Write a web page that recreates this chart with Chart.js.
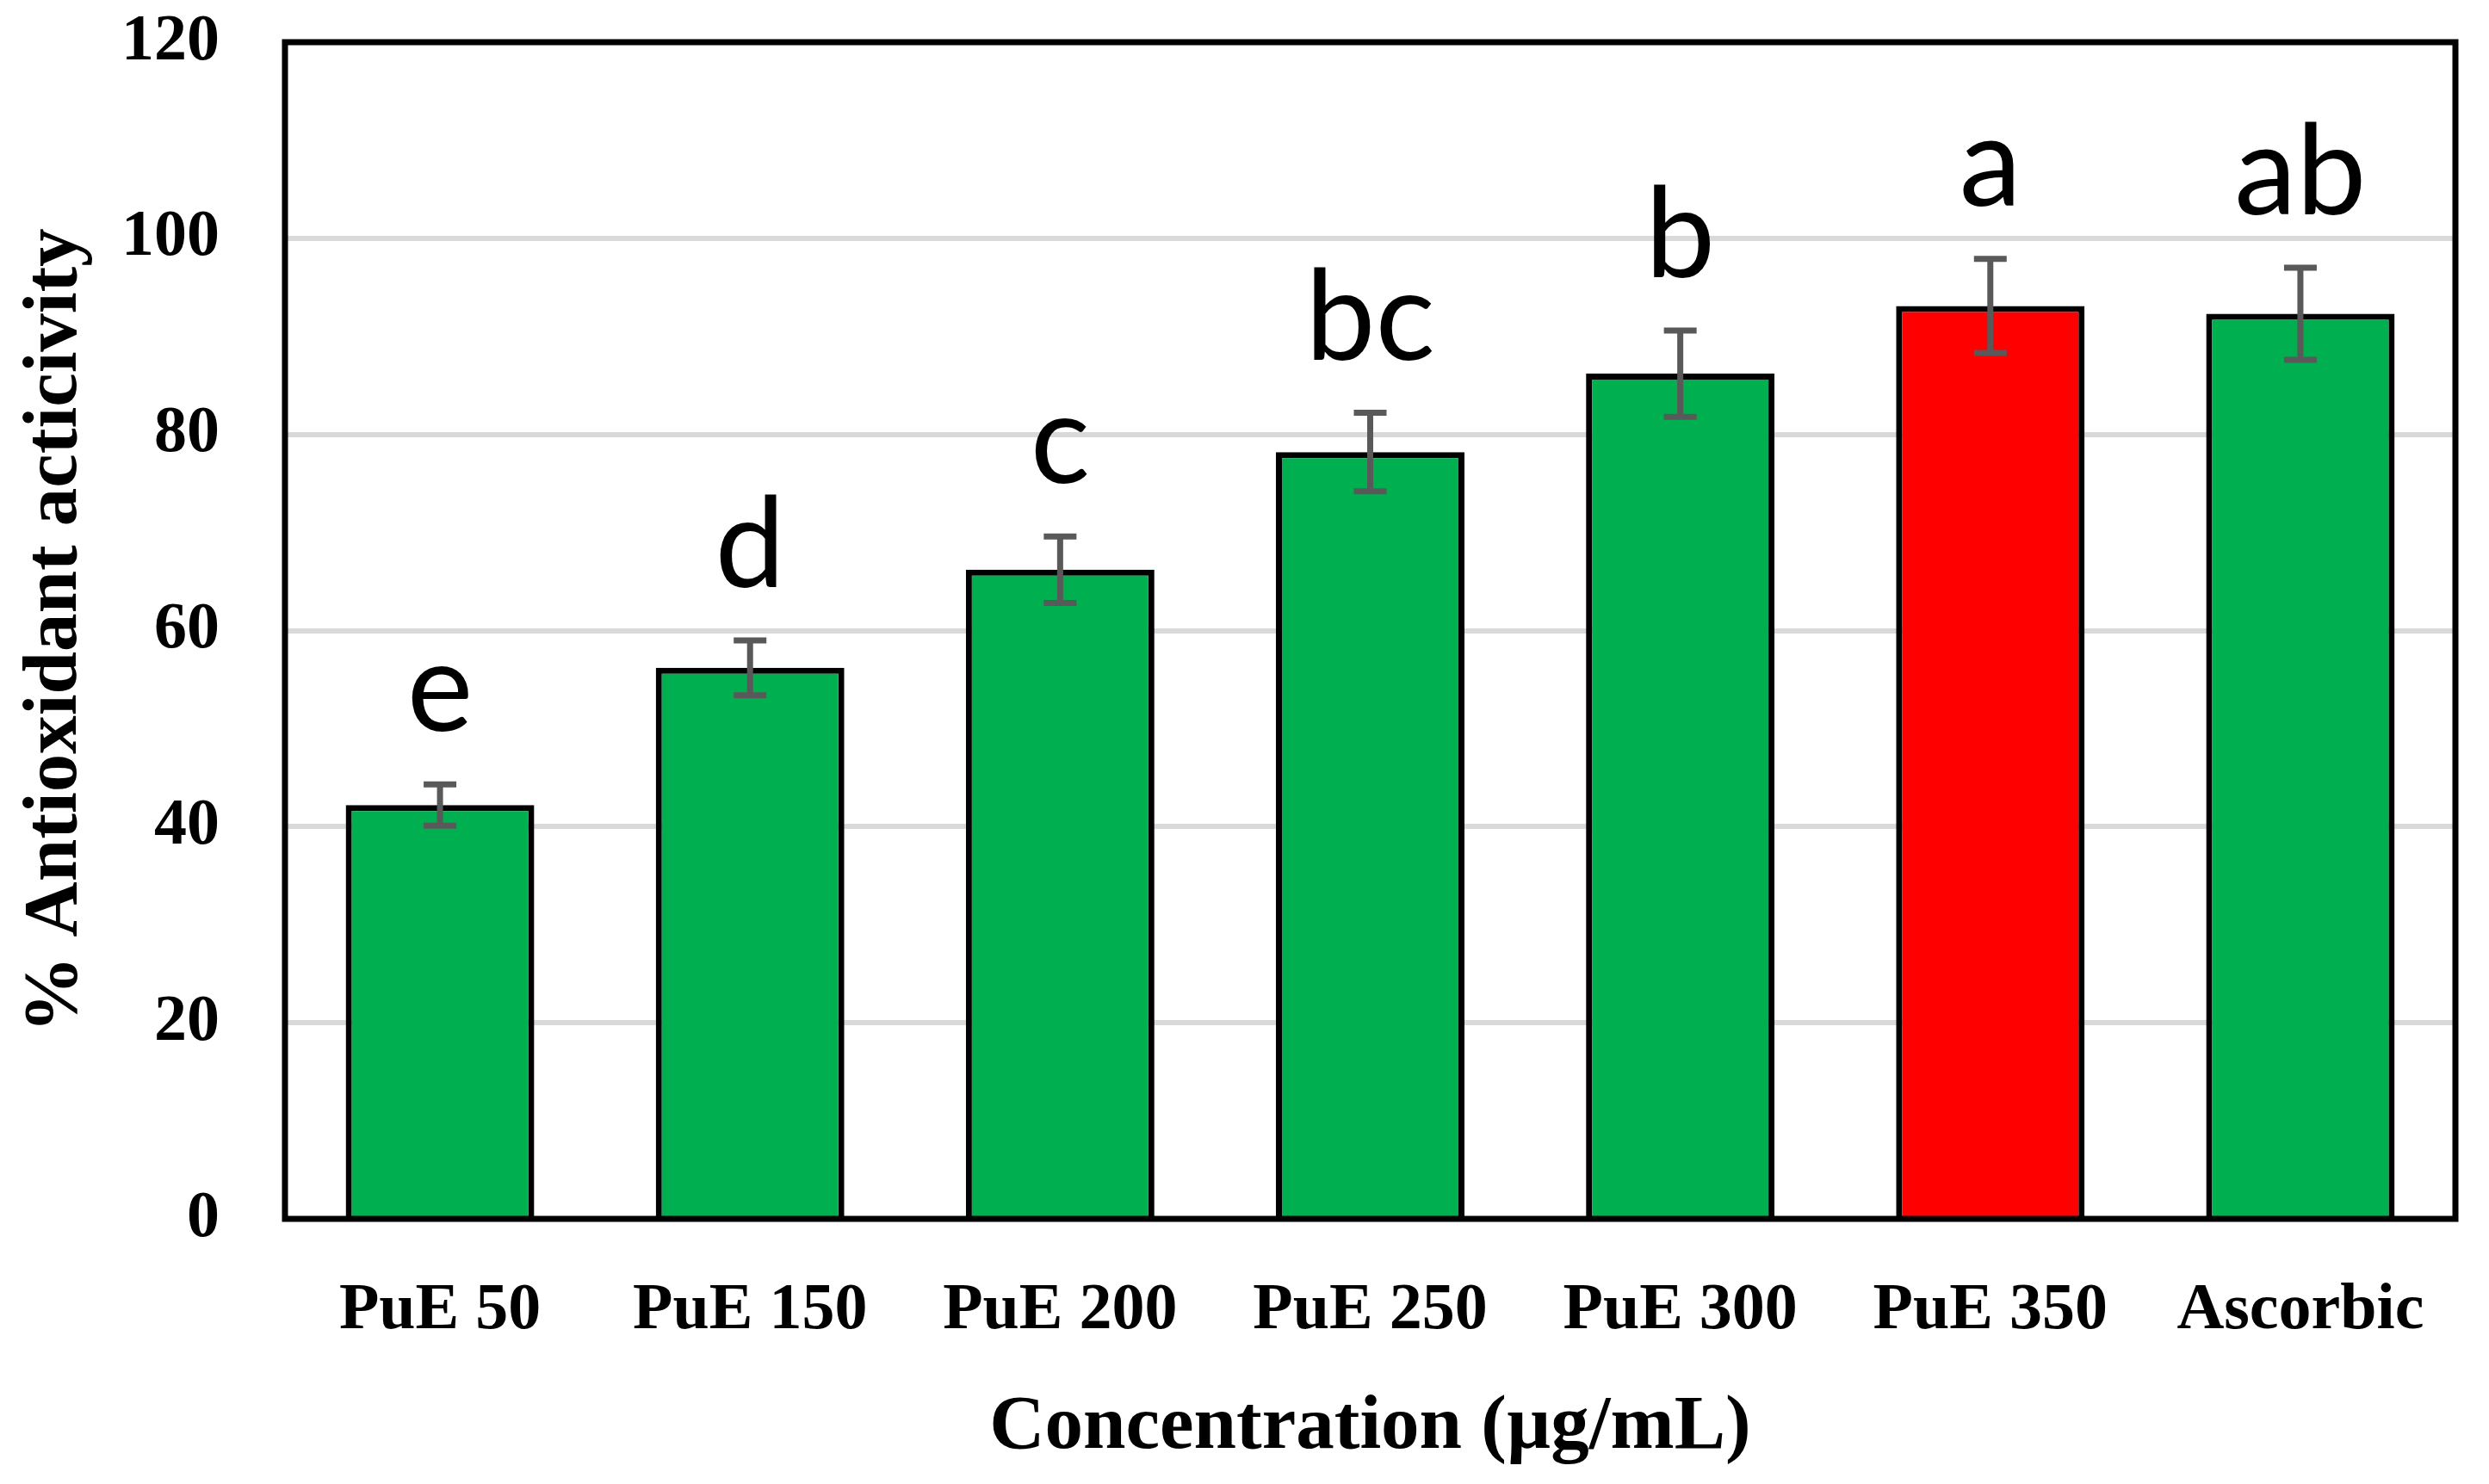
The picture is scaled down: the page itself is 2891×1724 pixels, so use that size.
<!DOCTYPE html>
<html>
<head>
<meta charset="utf-8">
<script src="https://cdn.jsdelivr.net/npm/chart.js@4.4.1/dist/chart.umd.min.js"></script>
<style>
  html, body { margin: 0; padding: 0; background: #ffffff; }
  #wrap { width: 2891px; height: 1724px; }
</style>
</head>
<body>
<div id="wrap"><canvas id="c" width="2891" height="1724"></canvas></div>
<script>
// ---- data ----
const categories = ['PuE 50', 'PuE 150', 'PuE 200', 'PuE 250', 'PuE 300', 'PuE 350', 'Ascorbic'];
const meanValues = [42.2, 56.2, 66.2, 78.2, 86.2, 93.1, 92.3];
const errorValues = [2.1, 2.8, 3.4, 4.0, 4.4, 4.8, 4.7];
const groupLetters = ['e', 'd', 'c', 'bc', 'b', 'a', 'ab'];
const yTickValues = [0, 20, 40, 60, 80, 100, 120];
const highlightedCategory = 'PuE 350';
const yAxisTitle = '% Antioxidant acticivity';
const xAxisTitle = 'Concentration (\u00B5g/mL)';

// ---- styles ----
const GREEN = '#00b050';
const RED = '#ff0000';
const barColors = categories.map(c => c === highlightedCategory ? RED : GREEN);
const serif = '"Liberation Serif", "Times New Roman", serif';

const errorBarPlugin = {
  id: 'errorBars',
  afterDatasetsDraw(chart) {
    const ctx = chart.ctx;
    const meta = chart.getDatasetMeta(0);
    const y = chart.scales.y;
    ctx.save();
    ctx.strokeStyle = '#595959';
    ctx.lineWidth = 7;
    ctx.lineCap = 'butt';
    meta.data.forEach((bar, i) => {
      const top = y.getPixelForValue(meanValues[i] + errorValues[i]);
      const bot = y.getPixelForValue(meanValues[i] - errorValues[i]);
      const half = 19;
      ctx.beginPath();
      ctx.moveTo(bar.x, top); ctx.lineTo(bar.x, bot);
      ctx.moveTo(bar.x - half, top); ctx.lineTo(bar.x + half, top);
      ctx.moveTo(bar.x - half, bot); ctx.lineTo(bar.x + half, bot);
      ctx.stroke();
    });
    // frame around plot area
    const a = chart.chartArea;
    ctx.strokeStyle = '#000000';
    ctx.lineWidth = 7;
    ctx.strokeRect(a.left, a.top, a.right - a.left, a.bottom - a.top);
    // significance letters
    ctx.fillStyle = '#000000';
    ctx.font = '145px Lato, "Open Sans", sans-serif';
    ctx.textAlign = 'center';
    ctx.textBaseline = 'alphabetic';
    meta.data.forEach((bar, i) => {
      const top = y.getPixelForValue(meanValues[i] + errorValues[i]);
      ctx.fillText(groupLetters[i], bar.x, top - 62);
    });
    ctx.restore();
  }
};

new Chart(document.getElementById('c'), {
  type: 'bar',
  data: {
    labels: categories,
    datasets: [{
      data: meanValues,
      backgroundColor: barColors,
      borderColor: '#000000',
      borderWidth: 7,
      barPercentage: 0.608,
      categoryPercentage: 1.0
    }]
  },
  options: {
    responsive: false,
    animation: false,
    devicePixelRatio: 1,
    layout: { padding: { top: 49, right: 39, left: 0, bottom: 0 } },
    plugins: {
      legend: { display: false },
      tooltip: { enabled: false }
    },
    scales: {
      x: {
        grid: { display: false, drawTicks: false },
        border: { display: false },
        ticks: {
          color: '#000000',
          padding: 62,
          maxRotation: 0,
          autoSkip: false,
          font: { family: serif, size: 76, weight: 'bold' }
        },
        title: {
          display: true,
          text: xAxisTitle,
          color: '#000000',
          padding: { top: 0, bottom: 12 },
          font: { family: serif, size: 89, weight: 'bold', lineHeight: 1.2 }
        },
        afterFit(scale) {
          scale.height = 308;
          scale.paddingLeft = 0; scale.paddingRight = 0;
        }
      },
      y: {
        min: 0,
        max: 120,
        afterBuildTicks(scale) { scale.ticks = yTickValues.map(v => ({ value: v })); },
        grid: { color: '#d9d9d9', lineWidth: 6, drawTicks: false },
        border: { display: false },
        ticks: {
          color: '#000000',
          padding: 76,
          font: { family: serif, size: 76, weight: 'bold' }
        },
        title: {
          display: true,
          text: yAxisTitle,
          color: '#000000',
          padding: { top: 12, bottom: 0 },
          font: { family: serif, size: 89, weight: 'bold', lineHeight: 1.2 }
        },
        afterFit(scale) {
          scale.width = 331;
          scale.paddingTop = 0; scale.paddingBottom = 0;
        }
      }
    }
  },
  plugins: [errorBarPlugin]
});
</script>
</body>
</html>
